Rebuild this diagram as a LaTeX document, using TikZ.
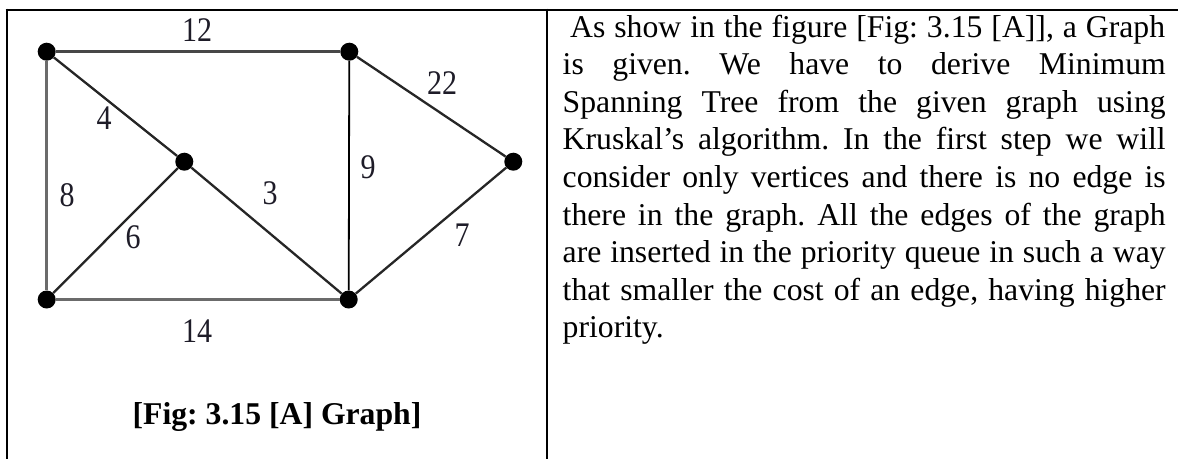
\documentclass[tikz,border=0pt]{standalone}
\usepackage{fontspec}
\setmainfont{Liberation Serif}
\frenchspacing
\begin{document}
\begin{tikzpicture}[x=1pt,y=-1pt,
  rule/.style={line width=2.6pt, black},
  vtx/.style={circle, fill=black, minimum size=18pt, inner sep=0pt},
  edark/.style={line width=2.3pt, black!85},
  egray/.style={line width=3.2pt, black!58},
  ethin/.style={line width=1.8pt, black},
  etop/.style={line width=2.8pt, black!72},
  lbl/.style={font=\fontsize{30}{36}\selectfont, inner sep=0pt, text={rgb,255:red,30;green,28;blue,40}},
  txt/.style={font=\fontsize{31.7}{37.6}\selectfont, inner sep=0pt, anchor=base west},
  captxt/.style={font=\bfseries\fontsize{31.7}{37}\selectfont, inner sep=0pt, anchor=base}
]
\newcommand{\tall}[1]{\scalebox{1}[1.15]{#1}}
\useasboundingbox (0,0) rectangle (1178,459);
\fill[white] (0,0) rectangle (1178,459);
% table rules
\draw[rule] (5.7,10) -- (1178,10);
\draw[rule] (7,8.7) -- (7,459);
\draw[rule] (547,8.7) -- (547,459);
% vertices
\node[vtx] (tl) at (46.7,51.7) {};
\node[vtx] (tr) at (349.3,51.7) {};
\node[vtx] (c)  at (184.3,161.7) {};
\node[vtx] (r)  at (513.3,161.7) {};
\node[vtx] (bl) at (46.7,299.5) {};
\node[vtx] (br) at (348.7,299.5) {};
% edges
\draw[etop] (tl) -- (tr);
\draw[egray] (tl) -- (bl);
\draw[egray] (bl) -- (br);
\draw[edark] (tl) -- (c);
\draw[edark] (c) -- (br);
\draw[edark] (bl) -- (c);
\draw[ethin] (tr) -- (br);
\draw[edark] (tr) -- (r);
\draw[edark] (br) -- (r);
% weights
\node[lbl] (w12) at (197,30) {\tall{12}};
\node[lbl] (w22) at (442,83) {\tall{22}};
\node[lbl] (w4)  at (104,118) {\tall{4}};
\node[lbl] (w9)  at (368,167) {\tall{9}};
\node[lbl] (w8)  at (67,195) {\tall{8}};
\node[lbl] (w3)  at (270,193) {\tall{3}};
\node[lbl] (w6)  at (133,237) {\tall{6}};
\node[lbl] (w7)  at (462,235) {\tall{7}};
\node[lbl] (w14) at (197,331) {\tall{14}};
% caption
\node[captxt] (caption) at (277,424) {[Fig: 3.15 [A] Graph]};
% paragraph
\node[txt] (l1) at (570,37) {\makebox[595pt][s]{As show in the figure [Fig: 3.15 [A]], a Graph}};
\node[txt] (l2) at (562.5,74.6) {\makebox[603pt][s]{is given. We have to derive Minimum}};
\node[txt] (l3) at (562.5,112.2) {\makebox[603pt][s]{Spanning Tree from the given graph using}};
\node[txt] (l4) at (562.5,149.8) {\makebox[603pt][s]{Kruskal’s algorithm. In the first step we will}};
\node[txt] (l5) at (562.5,187.4) {\makebox[603pt][s]{consider only vertices and there is no edge is}};
\node[txt] (l6) at (562.5,225) {\makebox[603pt][s]{there in the graph. All the edges of the graph}};
\node[txt] (l7) at (562.5,262.6) {\makebox[603pt][s]{are inserted in the priority queue in such a way}};
\node[txt] (l8) at (562.5,300.2) {\makebox[603pt][s]{that smaller the cost of an edge, having higher}};
\node[txt] (l9) at (562.5,337.8) {priority.};
\end{tikzpicture}
\end{document}
